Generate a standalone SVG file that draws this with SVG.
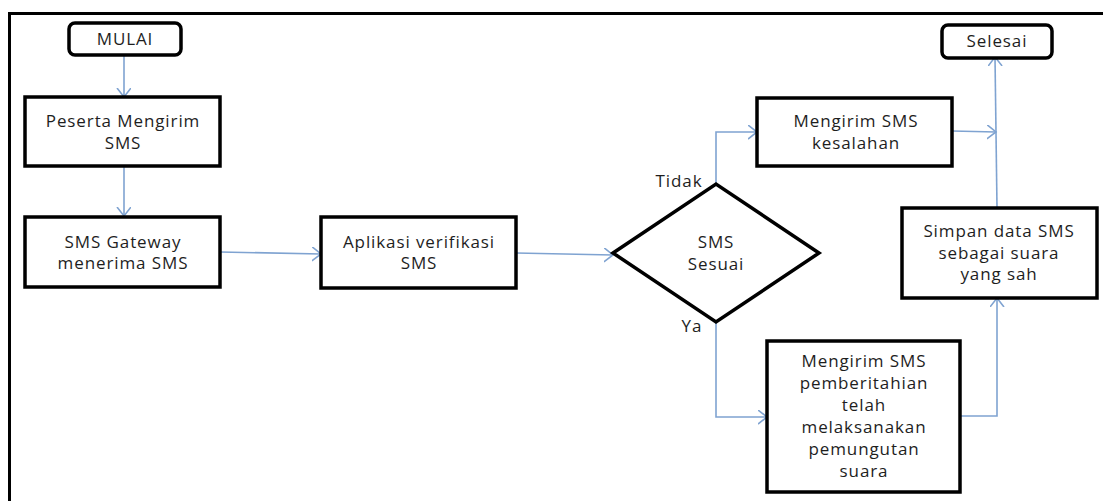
<svg xmlns="http://www.w3.org/2000/svg" width="1103" height="501" viewBox="0 0 1103 501">
<style>
.box{fill:#fff;stroke:#000;stroke-width:3.5}
.t{font-family:"Open Sans","Liberation Sans",sans-serif;font-size:17px;fill:#1e1e1e;text-anchor:middle;letter-spacing:0.9px}
.c{fill:none;stroke:#7fa3d1;stroke-width:1.6}
</style>
<defs>
<marker id="ah" markerUnits="userSpaceOnUse" markerWidth="12" markerHeight="16" refX="9" refY="7" orient="auto">
<path d="M0,0 L9,7 L0,14" fill="none" stroke="#7fa3d1" stroke-width="1.6"/>
</marker>
</defs>
<rect width="1103" height="501" fill="#fff"/>
<path d="M9.5,501 V13.5 H1103" fill="none" stroke="#000" stroke-width="3"/>
<g id="connectors">
<path class="c" d="M124,55 V97" marker-end="url(#ah)"/>
<path class="c" d="M124,166 V216" marker-end="url(#ah)"/>
<path class="c" d="M220,252 L321,254" marker-end="url(#ah)"/>
<path class="c" d="M516,253 L613,255" marker-end="url(#ah)"/>
<path class="c" d="M716,184 V132 H757" marker-end="url(#ah)"/>
<path class="c" d="M716,322 V417 H767" marker-end="url(#ah)"/>
<path class="c" d="M952,131 L996,132" marker-end="url(#ah)"/>
<path class="c" d="M960,416 H997 V298" marker-end="url(#ah)"/>
<path class="c" d="M997,208 L995,57" marker-end="url(#ah)"/>
</g>
<g id="mulai">
<rect class="box" x="69" y="23" width="112" height="32" rx="6"/>
<text class="t" x="125" y="45">MULAI</text>
</g>
<g id="peserta">
<rect class="box" x="25" y="97" width="195" height="69"/>
<text class="t" x="123" y="127">Peserta Mengirim</text>
<text class="t" x="123" y="149">SMS</text>
</g>
<g id="gateway">
<rect class="box" x="25" y="217" width="195" height="70"/>
<text class="t" x="123" y="248">SMS Gateway</text>
<text class="t" x="123" y="269">menerima SMS</text>
</g>
<g id="aplikasi">
<rect class="box" x="321" y="217" width="195" height="71"/>
<text class="t" x="419" y="248">Aplikasi verifikasi</text>
<text class="t" x="419" y="269">SMS</text>
</g>
<g id="sesuai">
<polygon class="box" points="613,253 716,184 819,253 716,322"/>
<text class="t" x="716" y="248">SMS</text>
<text class="t" x="716" y="270">Sesuai</text>
</g>
<g id="label-tidak"><text class="t" x="679" y="187">Tidak</text></g>
<g id="label-ya"><text class="t" x="692" y="332">Ya</text></g>
<g id="kesalahan">
<rect class="box" x="757" y="98" width="195" height="68"/>
<text class="t" x="856" y="127">Mengirim SMS</text>
<text class="t" x="856" y="149">kesalahan</text>
</g>
<g id="pemberitahuan">
<rect class="box" x="767" y="341" width="193" height="151"/>
<text class="t" x="864" y="367">Mengirim SMS</text>
<text class="t" x="864" y="389">pemberitahian</text>
<text class="t" x="864" y="411">telah</text>
<text class="t" x="864" y="433">melaksanakan</text>
<text class="t" x="864" y="455">pemungutan</text>
<text class="t" x="864" y="477">suara</text>
</g>
<g id="simpan">
<rect class="box" x="902" y="208" width="195" height="90"/>
<text class="t" x="999" y="237">Simpan data SMS</text>
<text class="t" x="999" y="259">sebagai suara</text>
<text class="t" x="999" y="280">yang sah</text>
</g>
<g id="selesai">
<rect class="box" x="942" y="25" width="110" height="33" rx="6"/>
<text class="t" x="997" y="47">Selesai</text>
</g>
</svg>
